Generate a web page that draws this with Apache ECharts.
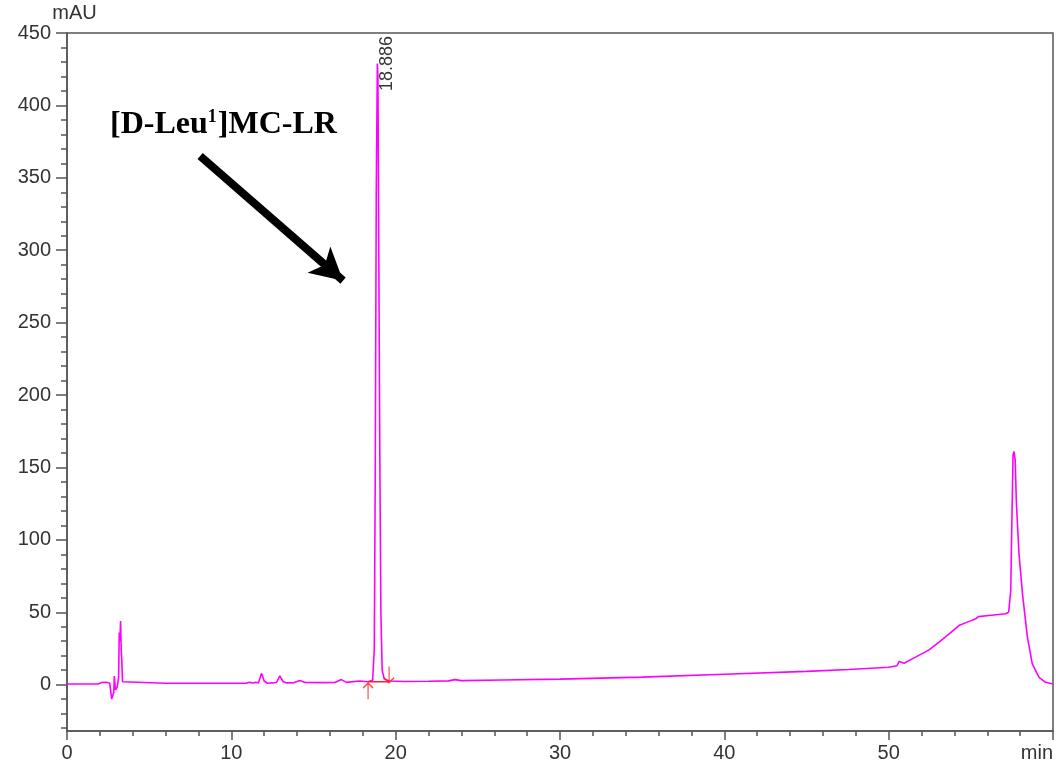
<!DOCTYPE html>
<html>
<head>
<meta charset="utf-8">
<script src="https://cdn.jsdelivr.net/npm/echarts@6/dist/echarts.min.js"></script>
<style>
  html, body { margin: 0; padding: 0; background: #fff; }
  #chart { width: 1056px; height: 766px; }
</style>
</head>
<body>
<div id="chart"></div>
<script>
// retention time (min)
var times = [0, 1.9, 2.1, 2.4, 2.6, 2.72, 2.8, 2.85, 2.88, 2.95, 3.05, 3.14, 3.18, 3.22, 3.26, 3.3, 3.33, 3.38, 3.45, 6, 10.9, 11.1, 11.3, 11.5, 11.65, 11.83, 12.0, 12.2, 12.5, 12.75, 12.95, 13.15, 13.4, 13.8, 14.16, 14.5, 15.5, 16.3, 16.7, 17.0, 17.8, 18.3, 18.6, 18.7, 18.76, 18.82, 18.886, 18.92, 18.96, 19.0, 19.04, 19.1, 19.18, 19.3, 19.6, 20.5, 22.0, 23.2, 23.6, 24.0, 26.5, 30, 35, 40, 45, 47.6, 50, 50.5, 50.64, 50.94, 51.55, 52.46, 53.07, 53.68, 54.3, 54.9, 55.3, 55.46, 56.1, 57.12, 57.3, 57.43, 57.49, 57.57, 57.63, 57.7, 57.77, 57.93, 58.14, 58.44, 58.74, 59.15, 59.55, 60];
// absorbance (mAU)
var mau = [0.5, 0.5, 1.5, 1.6, 1.0, -10, -9.5, -5, 6, -3.5, -2, 5, 36, 30, 44, 24, 18, 2, 1, 1, 1, 1.6, 1.2, 1.6, 1.2, 7.8, 2.5, 1.0, 1.2, 1.5, 6, 2.0, 1.2, 1.3, 2.8, 1.5, 1.4, 1.5, 3.5, 1.6, 2.5, 2.0, 3, 25, 150, 340, 429, 420, 330, 238, 150, 50, 10, 4, 2.5, 2.2, 2.4, 2.6, 3.5, 2.8, 3.2, 3.8, 5.2, 7.2, 9.2, 10.5, 12, 13, 16, 14.8, 18.5, 24, 29.3, 35, 41, 43.7, 45.5, 47, 47.8, 49, 50, 65, 108, 158.8, 161, 155, 126, 90.6, 63, 33, 14.3, 5, 1.6, 0.5];

var peakTime = 18.886;
var peakHeight = 429;
var peakLabel = "18.886";
// integration start / end markers
var integStart = 18.32;
var integEnd = 19.6;
var integLevel = 2;

var yMajorTicks = [0, 50, 100, 150, 200, 250, 300, 350, 400, 450];
var yMinorTicks = [-30, -20, -10, 0, 10, 20, 30, 40, 50, 60, 70, 80, 90, 100, 110, 120, 130, 140, 150, 160, 170, 180, 190, 200, 210, 220, 230, 240, 250, 260, 270, 280, 290, 300, 310, 320, 330, 340, 350, 360, 370, 380, 390, 400, 410, 420, 430, 440, 450];

var traceData = times.map(function (t, i) { return [t, mau[i]]; });

var axisColor = "#555";
var labelFont = { color: "#333", fontSize: 20, fontFamily: "Liberation Sans, Arial, sans-serif" };

var myChart = echarts.init(document.getElementById("chart"));
myChart.setOption({
  animation: false,
  grid: {
    left: 67,
    right: 2,
    top: 33,
    bottom: 35,
    show: true,
    borderColor: axisColor,
    borderWidth: 1.5,
  },
  xAxis: {
    type: "value",
    min: 0,
    max: 60,
    interval: 10,
    name: "min",
    nameLocation: "end",
    nameGap: 0,
    nameTextStyle: Object.assign({ align: "right", verticalAlign: "top", padding: [12, 0, 0, 0] }, labelFont),
    axisLine: { show: true, onZero: false, lineStyle: { color: axisColor, width: 1.5 } },
    axisTick: { show: true, length: 9, lineStyle: { color: axisColor, width: 1.5 } },
    minorTick: { show: true, splitNumber: 5, length: 5, lineStyle: { color: axisColor, width: 1.5 } },
    splitLine: { show: false },
    axisLabel: Object.assign({
      margin: 12,
      formatter: function (v) { return v === 60 ? "" : String(v); },
    }, labelFont),
  },
  yAxis: [
    {
      type: "value",
      min: -32,
      max: 450,
      name: "mAU",
      nameLocation: "end",
      nameGap: 4,
      nameTextStyle: Object.assign({ align: "center", padding: [0, 0, 0, 15] }, labelFont),
      axisLine: { show: true, onZero: false, lineStyle: { color: axisColor, width: 1.5 } },
      axisTick: { show: true, length: 11, customValues: yMajorTicks, lineStyle: { color: axisColor, width: 1.5 } },
      axisLabel: Object.assign({ margin: 16, customValues: yMajorTicks }, labelFont),
      splitLine: { show: false },
    },
    {
      type: "value",
      min: -32,
      max: 450,
      position: "left",
      axisLine: { show: false, onZero: false },
      axisTick: { show: true, length: 6, customValues: yMinorTicks, lineStyle: { color: axisColor, width: 1.5 } },
      axisLabel: { show: false },
      splitLine: { show: false },
    },
  ],
  series: [
    {
      type: "line",
      data: traceData,
      showSymbol: false,
      lineStyle: { color: "#ff00ff", width: 1.6 },
      silent: true,
      markPoint: {
        symbol: "circle",
        symbolSize: 0,
        silent: true,
        data: [
          {
            coord: [peakTime, peakHeight],
            label: {
              show: true,
              formatter: peakLabel,
              rotate: 90,
              offset: [0, 10],
              align: "center",
              verticalAlign: "middle",
              color: "#333",
              fontSize: 18,
              fontFamily: "Liberation Sans, Arial, sans-serif",
            },
          },
        ],
      },
      markLine: {
        silent: true,
        symbol: ["none", "arrow"],
        symbolSize: [26, 32],
        label: { show: false },
        lineStyle: { color: "#000", width: 8, type: "solid" },
        data: [[{ coord: [8.1, 365] }, { coord: [16.8, 279] }]],
      },
    },
    {
      type: "line",
      data: [[integStart, integLevel], [integEnd, integLevel]],
      showSymbol: false,
      lineStyle: { color: "#ff2020", width: 1.4 },
      silent: true,
    },
    {
      type: "scatter",
      silent: true,
      symbolSize: [10, 16],
      z: 5,
      itemStyle: { color: "rgba(0,0,0,0)", borderColor: "#ff2020", borderWidth: 1.5 },
      data: [
        { value: [integStart, -4.5], symbol: "path://M5,0 L5,20 M1,6 L5,0 L9,6" },
        { value: [integEnd, 7], symbol: "path://M5,0 L5,20 M1,14 L5,20 L9,14" },
      ],
    },
  ],
  graphic: [
    {
      type: "text",
      left: 110,
      top: 108,
      style: {
        text: "{a|[D-Leu}{s|1}{a|]MC-LR}",
        rich: {
          a: { fontSize: 32, fontWeight: "bold", fontFamily: "Liberation Serif, Times New Roman, serif", fill: "#000" },
          s: { fontSize: 18, fontWeight: "bold", fontFamily: "Liberation Serif, Times New Roman, serif", fill: "#000", padding: [0, 1, 15, 0] },
        },
      },
    },
  ],
});
window.addEventListener("resize", function () {
  myChart.resize();
});
</script>
</body>
</html>
